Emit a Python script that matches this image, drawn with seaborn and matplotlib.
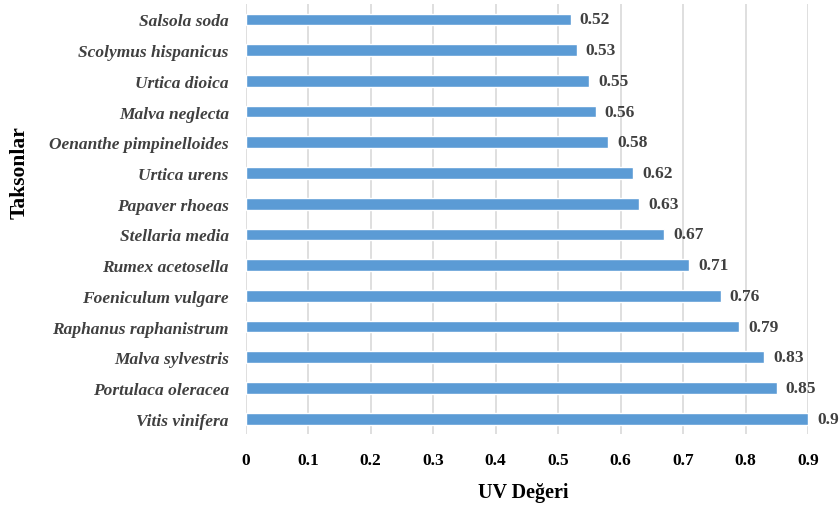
import matplotlib
matplotlib.use("Agg")
import matplotlib.pyplot as plt
import seaborn as sns
import pandas as pd

taxa = [
    "Salsola soda", "Scolymus hispanicus", "Urtica dioica", "Malva neglecta",
    "Oenanthe pimpinelloides", "Urtica urens", "Papaver rhoeas", "Stellaria media",
    "Rumex acetosella", "Foeniculum vulgare", "Raphanus raphanistrum",
    "Malva sylvestris", "Portulaca oleracea", "Vitis vinifera",
]
uv_values = [0.52, 0.53, 0.55, 0.56, 0.58, 0.62, 0.63, 0.67, 0.71, 0.76, 0.79, 0.83, 0.85, 0.9]
x_ticks = [0, 0.1, 0.2, 0.3, 0.4, 0.5, 0.6, 0.7, 0.8, 0.9]
x_tick_labels = ["0", "0.1", "0.2", "0.3", "0.4", "0.5", "0.6", "0.7", "0.8", "0.9"]

df = pd.DataFrame({"Takson": taxa, "UV": uv_values})

sns.set_theme(style="white")
plt.rcParams["font.family"] = ["Liberation Serif", "DejaVu Serif"]

fig = plt.figure(figsize=(8.4, 5.1), dpi=100)
ax = fig.add_axes([0.2923, 0.147, 0.6696, 0.843])

bar_color = "#5B9BD5"
sns.barplot(data=df, x="UV", y="Takson", orient="h", color=bar_color,
            width=0.38, saturation=1, ax=ax, zorder=3)

ax.set_xlim(0, 0.9)
ax.set_ylim(len(taxa) - 0.5, -0.5)
ax.set_xticks(x_ticks)
ax.set_xticklabels(x_tick_labels, fontsize=12.5, fontweight="bold", color="black")
for xt in x_ticks:
    ax.axvline(xt, color="#D9D9D9", lw=1.2, zorder=1)

ax.tick_params(axis="x", length=0, pad=13)
ax.tick_params(axis="y", length=0, pad=12)
for lbl in ax.get_yticklabels():
    lbl.set_fontsize(12.5)
    lbl.set_fontweight("bold")
    lbl.set_fontstyle("italic")
    lbl.set_color("#404040")

for i, v in enumerate(uv_values):
    ax.annotate(f"{v:g}", xy=(v, i), xytext=(6.5, 0), textcoords="offset points",
                va="center", ha="left", fontsize=12.5, fontweight="bold",
                color="#404040", annotation_clip=False)

for s in ["top", "right", "bottom", "left"]:
    ax.spines[s].set_visible(False)

ax.set_xlabel("")
ax.set_ylabel("")
ax.grid(False)

fig.text(523 / 840, 1 - 493 / 510, "UV Değeri", ha="center", va="center",
         fontsize=14.5, fontweight="bold", color="black")
fig.text(20 / 840, 1 - 173 / 510, "Taksonlar", ha="center", va="center",
         rotation=90, fontsize=15.5, fontweight="bold", color="black")

fig.savefig("out.png", dpi=100)
